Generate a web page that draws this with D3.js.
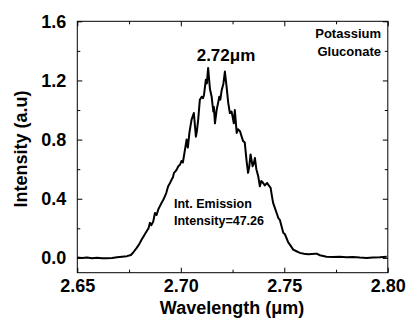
<!DOCTYPE html>
<html><head><meta charset="utf-8">
<script src="https://cdn.jsdelivr.net/npm/d3@7/dist/d3.min.js"></script>
<style>
html,body{margin:0;padding:0;background:#fff;}
text{font-family:"Liberation Sans",Arial,sans-serif;font-weight:bold;fill:#000;}
</style></head>
<body><svg id="c" width="406" height="320"></svg>
<script>
const wavelength = [2.6500,2.6523,2.6547,2.6571,2.6595,2.6619,2.6643,2.6668,2.6692,2.6716,2.6740,2.6759,2.6769,2.6787,2.6798,2.6811,2.6822,2.6835,2.6844,2.6851,2.6858,2.6867,2.6875,2.6883,2.6891,2.6899,2.6907,2.6916,2.6923,2.6930,2.6939,2.6948,2.6956,2.6962,2.6967,2.6974,2.6980,2.6988,2.6996,2.7003,2.7010,2.7020,2.7028,2.7034,2.7042,2.7052,2.7063,2.7073,2.7078,2.7084,2.7092,2.7101,2.7107,2.7112,2.7121,2.7126,2.7132,2.7136,2.7141,2.7149,2.7157,2.7160,2.7165,2.7173,2.7179,2.7186,2.7191,2.7197,2.7206,2.7213,2.7221,2.7229,2.7237,2.7245,2.7250,2.7256,2.7261,2.7270,2.7276,2.7286,2.7294,2.7301,2.7309,2.7318,2.7325,2.7331,2.7337,2.7347,2.7353,2.7358,2.7365,2.7374,2.7382,2.7389,2.7398,2.7406,2.7417,2.7425,2.7434,2.7440,2.7446,2.7454,2.7463,2.7471,2.7479,2.7495,2.7503,2.7519,2.7527,2.7543,2.7559,2.7575,2.7595,2.7615,2.7633,2.7656,2.7672,2.7704,2.7735,2.7768,2.7801,2.7831,2.7865,2.7897,2.7928,2.7961,2.7995];
const intensity = [0.002,0.000,0.003,-0.002,0.001,-0.003,-0.002,0.000,0.004,0.008,0.012,0.020,0.035,0.068,0.090,0.124,0.150,0.180,0.200,0.237,0.222,0.247,0.304,0.290,0.327,0.350,0.372,0.395,0.416,0.440,0.484,0.507,0.530,0.545,0.575,0.585,0.597,0.620,0.630,0.655,0.645,0.730,0.800,0.746,0.850,0.935,0.980,0.820,0.860,0.935,1.070,1.090,1.080,1.100,1.205,1.180,1.285,1.220,1.140,1.090,0.990,1.020,0.910,1.000,1.040,1.090,1.070,1.130,1.180,1.260,1.160,1.050,0.980,0.990,0.957,0.910,1.000,0.845,0.870,0.856,0.820,0.790,0.780,0.653,0.575,0.620,0.700,0.620,0.640,0.676,0.600,0.552,0.484,0.520,0.507,0.490,0.507,0.490,0.473,0.420,0.372,0.340,0.304,0.270,0.255,0.170,0.160,0.105,0.090,0.056,0.045,0.034,0.028,0.024,0.026,0.029,0.018,0.008,0.006,0.008,0.005,0.006,0.002,0.000,0.003,0.004,0.008];
const xTicks = [2.65,2.70,2.75,2.80];
const xMinor = [2.675,2.725,2.775];
const yTicks = [0.0,0.4,0.8,1.2,1.6];
const yMinor = [0.2,0.6,1.0,1.4];
const peakLabel = "2.72μm";
const sampleLabel = ["Potassium","Gluconate"];
const intLabel = ["Int. Emission","Intensity=47.26"];

const svg = d3.select("#c");
const L=77.3, R=387.8, T=21.3, B=272.7;
const x = d3.scaleLinear().domain([2.65,2.80]).range([L,R]);
const y = d3.scaleLinear().domain([-0.1,1.6]).range([B,T]);

// frame
svg.append("rect").attr("x",L).attr("y",T).attr("width",R-L).attr("height",B-T)
  .attr("fill","none").attr("stroke","#000").attr("stroke-width",1);

const fmt = d3.format(".2f");
const ax = (g, gen) => { g.call(gen); g.select(".domain").remove(); g.selectAll("line").attr("stroke","#000"); };
svg.append("g").attr("transform",`translate(0,${B})`).call(g=>ax(g,d3.axisBottom(x).tickValues(xTicks).tickSize(-5).tickFormat(fmt)))
  .selectAll("text").attr("font-size",18).attr("dy","0.71em").attr("y",7);
svg.append("g").attr("transform",`translate(0,${B})`).call(g=>ax(g,d3.axisBottom(x).tickValues(xMinor).tickSize(-3).tickFormat("")));
svg.append("g").attr("transform",`translate(0,${T})`).call(g=>ax(g,d3.axisTop(x).tickValues(xTicks).tickSize(-5).tickFormat("")));
svg.append("g").attr("transform",`translate(0,${T})`).call(g=>ax(g,d3.axisTop(x).tickValues(xMinor).tickSize(-3).tickFormat("")));
svg.append("g").attr("transform",`translate(${L},0)`).call(g=>ax(g,d3.axisLeft(y).tickValues(yTicks).tickSize(-5).tickPadding(11).tickFormat(d3.format(".1f"))))
  .selectAll("text").attr("font-size",18);
svg.append("g").attr("transform",`translate(${L},0)`).call(g=>ax(g,d3.axisLeft(y).tickValues(yMinor).tickSize(-3).tickFormat("")));
svg.append("g").attr("transform",`translate(${R},0)`).call(g=>ax(g,d3.axisRight(y).tickValues(yTicks).tickSize(-5).tickFormat("")));
svg.append("g").attr("transform",`translate(${R},0)`).call(g=>ax(g,d3.axisRight(y).tickValues(yMinor).tickSize(-3).tickFormat("")));
svg.selectAll(".tick text").attr("font-family","Liberation Sans, Arial, sans-serif").attr("font-weight","bold").attr("fill","#000");

// curve
const pts = wavelength.map((w,i)=>[w,intensity[i]]);
svg.append("path").datum(pts)
  .attr("d", d3.line().x(d=>x(d[0])).y(d=>y(d[1])))
  .attr("fill","none").attr("stroke","#000").attr("stroke-width",2).attr("stroke-linejoin","round");

// titles
svg.append("text").attr("x",232).attr("y",313.5).attr("text-anchor","middle").attr("font-size",18).text("Wavelength (μm)");
svg.append("text").attr("transform","translate(27,149) rotate(-90)").attr("text-anchor","middle").attr("font-size",18).text("Intensity (a.u)");

// annotations
svg.append("text").attr("x",226).attr("y",61).attr("text-anchor","middle").attr("font-size",17).text(peakLabel);
sampleLabel.forEach((s,i)=>svg.append("text").attr("x",381).attr("y",37.7+i*18).attr("text-anchor","end").attr("font-size",13).text(s));
intLabel.forEach((s,i)=>svg.append("text").attr("x",174).attr("y",208+i*16.7).attr("font-size",12.5).text(s));
</script></body></html>
